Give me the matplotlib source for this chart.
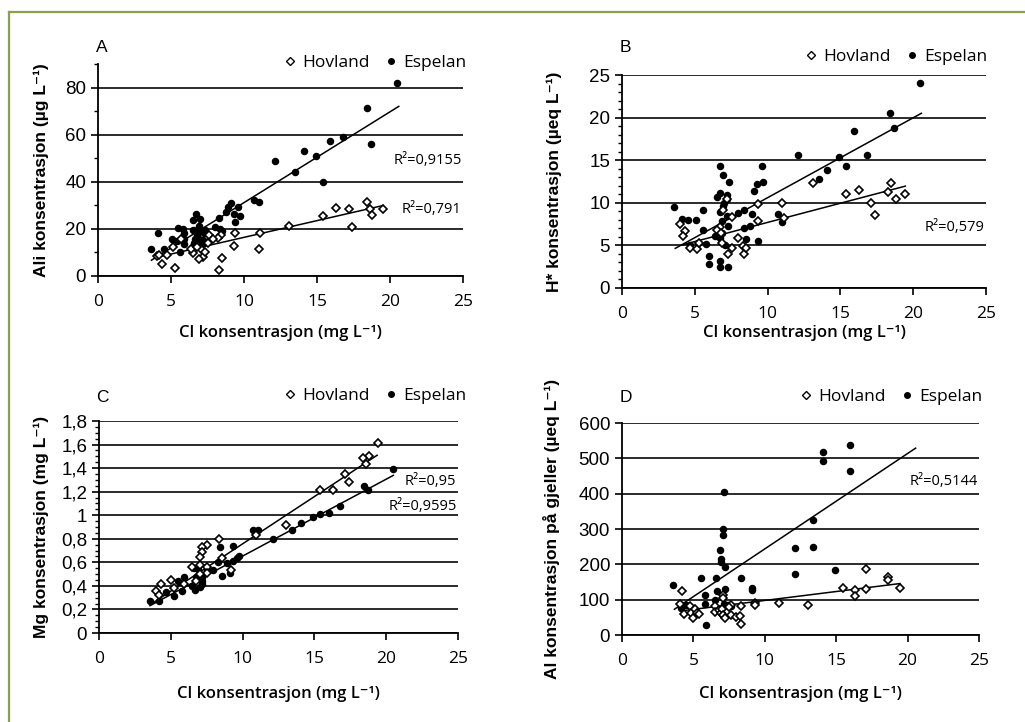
import matplotlib
matplotlib.use("Agg")
import matplotlib.pyplot as plt
import matplotlib.ticker as mticker
from matplotlib.lines import Line2D
import numpy as np

# ---- data ----
# Panel A: Ali vs Cl
a_esp_x = [20.5, 18.4, 18.7, 16.8, 15.9, 14.1, 14.9, 12.1, 13.5, 15.4, 10.7, 11.0, 9.1, 8.9, 9.6, 8.8,
           9.7, 9.3, 8.3, 9.4, 6.7, 7.0, 6.5, 4.1, 3.6, 4.5, 5.1, 5.5, 5.8, 5.9, 5.4, 5.9, 5.9, 5.6,
           6.75, 6.8, 7.1, 7.25, 6.65, 6.9, 6.95, 7.35, 8.0, 8.35, 8.5, 7.2, 6.6, 7.1, 6.5]
a_esp_y = [82, 71.2, 56.2, 58.9, 57.4, 52.9, 51, 48.7, 44, 39.9, 32.2, 31.5, 30.9, 29.2, 29.2, 27.2,
           25.5, 26.4, 24.7, 22.8, 26.5, 24.1, 23.7, 18.2, 11.3, 11.3, 15.9, 20.4, 19.9, 18.2, 15, 15.9,
           13.5, 10.4, 19.6, 17.4, 19.3, 18.2, 15.6, 15.9, 21.3, 19.6, 21, 19.9, 19.3, 15.3, 13.9, 13.9, 19.6]
a_hov_x = [19.5, 18.4, 18.6, 18.8, 17.2, 16.3, 17.4, 15.4, 13.1, 11.1, 11.0, 9.4, 9.3, 8.5, 8.3, 8.4,
           8.2, 7.6, 7.9, 7.55, 7.2, 6.9, 7.05, 6.5, 6.4, 6.75, 7.35, 5.7, 5.15, 5.3, 4.35, 4.7, 4.05, 4.2]
a_hov_y = [28.4, 31.5, 28.4, 26, 28.4, 28.8, 20.9, 25.5, 21.4, 18.2, 11.6, 18.2, 12.6, 7.5, 2.4, 17.4,
           16, 17.6, 15.6, 13.9, 8.1, 7.1, 11.3, 9.6, 11.3, 12.2, 10.4, 15.6, 12.2, 3.4, 5.2, 8.8, 8.5, 8.8]

# Panel B: H* vs Cl
b_esp_x = [20.5, 18.4, 18.7, 15.9, 16.8, 12.1, 14.9, 15.4, 14.1, 13.5, 9.6, 9.7, 9.3, 9.1, 6.7, 6.95,
           7.35, 6.5, 6.75, 7.2, 7.2, 7.0, 6.75, 6.95, 7.2, 8.0, 8.4, 8.9, 6.85, 7.25, 8.35, 8.8, 8.5,
           9.35, 10.7, 11.0, 3.6, 4.1, 4.5, 5.1, 5.55, 5.55, 4.7, 5.25, 5.8, 5.95, 5.95, 6.7, 6.7, 7.3,
           6.4, 6.75, 7.1, 6.9, 6.6]
b_esp_y = [24.1, 20.5, 18.75, 18.4, 15.6, 15.6, 15.35, 14.3, 13.9, 12.8, 14.3, 12.4, 12.2, 11.4, 14.3,
           13.3, 12.4, 10.7, 11.1, 10.9, 10.5, 10.0, 8.9, 9.6, 8.4, 8.8, 9.1, 8.7, 7.9, 7.3, 7.0, 7.3,
           5.7, 5.5, 8.7, 7.7, 9.5, 8.1, 8.0, 8.0, 9.1, 6.8, 5.1, 5.3, 5.2, 3.7, 2.85, 3.2, 2.5, 2.5,
           6.05, 5.9, 5.1, 6.5, 6.95]
b_hov_x = [19.45, 18.5, 18.3, 18.8, 17.1, 17.35, 16.3, 15.4, 13.1, 11.0, 11.1, 9.35, 9.35, 7.95, 8.3,
           8.4, 8.55, 7.55, 7.2, 6.95, 6.75, 6.5, 6.8, 6.85, 7.3, 7.55, 4.0, 4.35, 4.2, 4.7, 5.15, 5.3]
b_hov_y = [11.0, 12.3, 11.25, 10.5, 10.0, 8.55, 11.5, 11.0, 12.3, 10.0, 8.25, 9.85, 7.9, 5.9, 4.9,
           4.0, 4.7, 8.3, 10.5, 9.15, 7.2, 6.8, 6.45, 5.3, 3.95, 4.7, 7.5, 6.7, 6.1, 4.7, 4.6, 5.3]

# Panel C: Mg vs Cl
c_esp_x = [20.5, 18.45, 18.7, 16.8, 16.0, 15.4, 14.9, 14.05, 13.45, 12.1, 10.75, 11.1, 9.75, 9.6, 9.35,
           9.3, 8.9, 9.15, 8.4, 8.3, 8.55, 7.95, 7.5, 7.2, 7.2, 7.15, 6.75, 6.45, 6.7, 7.0, 6.6, 6.9,
           5.9, 5.75, 5.5, 5.25, 4.65, 4.15, 3.55]
c_esp_y = [1.39, 1.25, 1.21, 1.08, 1.02, 1.01, 0.986, 0.938, 0.873, 0.802, 0.876, 0.873, 0.656, 0.636,
           0.737, 0.608, 0.593, 0.506, 0.732, 0.602, 0.486, 0.537, 0.534, 0.472, 0.415, 0.444, 0.472,
           0.398, 0.367, 0.393, 0.548, 0.543, 0.472, 0.359, 0.444, 0.316, 0.35, 0.268, 0.271]
c_hov_x = [19.4, 18.8, 18.4, 18.6, 17.15, 17.4, 16.3, 15.4, 13.05, 10.95, 8.35, 8.55, 9.2, 7.55, 7.2,
           7.15, 7.0, 7.05, 6.45, 7.5, 7.5, 7.05, 6.75, 5.0, 4.3, 4.0, 4.2, 5.2, 5.9]
c_hov_y = [1.61, 1.50, 1.49, 1.435, 1.35, 1.28, 1.215, 1.21, 0.913, 0.834, 0.80, 0.636, 0.537, 0.75,
           0.73, 0.685, 0.647, 0.574, 0.557, 0.557, 0.506, 0.50, 0.444, 0.452, 0.415, 0.36, 0.322,
           0.384, 0.415]

# Panel D: Al on gills vs Cl
d_esp_x = [15.96, 14.1, 14.1, 15.96, 7.13, 13.4, 7.06, 7.06, 13.4, 12.1, 6.85, 6.9, 6.9, 7.2, 12.1,
           14.9, 8.3, 5.5, 6.6, 6.65, 7.2, 9.1, 9.1, 3.6, 5.8, 6.5, 5.8, 7.17, 6.65, 6.9, 5.9, 4.2,
           4.45, 4.1, 7.4, 7.6, 7.0, 6.7]
d_esp_y = [538.6, 517, 493, 465, 406, 326, 298.6, 283.5, 249.5, 245.7, 240, 215.4, 208, 192.8, 173.9,
           184.3, 161.6, 161.6, 161.6, 124.7, 130.4, 133.2, 128.5, 142.7, 112.4, 99.2, 86.9, 86.9,
           72.8, 70, 28.3, 85, 84, 77.5, 85, 82, 58.6, 70.9]
d_hov_x = [17.1, 18.6, 18.6, 19.45, 17.1, 16.3, 16.3, 15.45, 13.0, 11.0, 9.3, 9.3, 8.35, 7.6, 7.5,
           7.1, 7.1, 6.5, 6.5, 6.8, 6.9, 7.0, 7.1, 7.2, 7.6, 7.95, 8.25, 8.35, 4.2, 4.05, 4.35, 4.75,
           4.8, 5.0, 5.1, 5.25, 5.4]
d_hov_y = [186, 165, 156, 133, 130, 128.5, 109.6, 134, 85, 90.7, 90.7, 86, 81.3, 84, 80, 112.4, 104,
           83, 64, 70, 63.3, 72.8, 56.7, 47.2, 56.7, 51, 53, 32, 124.7, 88.8, 60.5, 82.2, 62.4, 47.2,
           72.8, 63.3, 58.6]

# trend lines (slope, intercept, x from, x to) as drawn in the reference
a_esp_fit = (3.855, -7.4, 3.66, 20.6)
a_hov_fit = (1.419, 2.22, 4.0, 19.5)
b_esp_fit = (0.938, 1.22, 3.66, 20.56)
b_hov_fit = (0.45, 3.2, 4.1, 19.46)
c_esp_fit = (0.0653, 0.0, 3.55, 20.5)
c_hov_fit = (0.0803, -0.046, 3.68, 19.37)
d_esp_fit = (27.0, -26.3, 3.67, 20.56)
d_hov_fit = (5.05, 47.3, 4.1, 19.46)

# R² labels: (text, y position)
a_r2 = [("R²=0,9155", 49), ("R²=0,791", 28.4)]
b_r2 = [("R²=0,579", 7.1)]
c_r2 = [("R²=0,95", 1.285), ("R²=0,9595", 1.074)]
d_r2 = [("R²=0,5144", 434)]

HUM = ["Open Sans", "DejaVu Sans"]
ARIAL = ["Liberation Sans", "DejaVu Sans"]
XLABEL = "Cl konsentrasjon (mg L⁻¹)"

fig = plt.figure(figsize=(10.25, 7.22), dpi=100)
W, H = 1025, 722

# green frame (top and left edges)
fig.add_artist(Line2D([9 / W, 1], [1 - 12 / H, 1 - 12 / H], color="#8aa04a", lw=1.6))
fig.add_artist(Line2D([9 / W, 9 / W], [0, 1 - 12 / H], color="#8aa04a", lw=1.6))


def comma_fmt(v, pos):
    return ("%g" % round(v, 3)).replace(".", ",")


def panel(rect, letter, letter_xy, legend_xy, esp_x, esp_y, hov_x, hov_y, esp_fit, hov_fit,
          ytop, ymajor, yminor, ylabel, r2, xlabel_y, ylabel_x):
    l, t, r, b = rect
    ax = fig.add_axes([l / W, 1 - b / H, (r - l) / W, (b - t) / H])
    ax.set_xlim(0, 25)
    ax.set_ylim(0, ytop)
    ax.set_xticks(range(0, 26, 5))
    ax.set_yticks(np.arange(0, ytop + ymajor / 2, ymajor))
    if yminor:
        ax.yaxis.set_minor_locator(mticker.MultipleLocator(yminor))
    ax.yaxis.set_major_formatter(mticker.FuncFormatter(comma_fmt))
    ax.grid(axis="y", which="major", color="#1a1a1a", lw=1.3)
    ax.set_axisbelow(True)
    for s in ["top", "right"]:
        ax.spines[s].set_visible(False)
    for s in ["left", "bottom"]:
        ax.spines[s].set_linewidth(1.3)
    ax.tick_params(axis="both", which="major", length=5, width=1.2, direction="out", colors="black")
    ax.tick_params(axis="y", which="minor", length=3, width=1.0)
    for lab in ax.get_yticklabels():
        lab.set_family(ARIAL)
        lab.set_fontsize(13.5)
    for lab in ax.get_xticklabels():
        lab.set_family(HUM)
        lab.set_fontsize(12.5)
    ax.tick_params(axis="x", pad=8)

    for fit in [esp_fit, hov_fit]:
        xx = np.array([fit[2], fit[3]])
        ax.plot(xx, fit[0] * xx + fit[1], color="black", lw=1.1, zorder=2)
    ax.plot(esp_x, esp_y, "o", color="black", ms=4.4, zorder=3)
    ax.plot(hov_x, hov_y, "D", mfc="white", mec="black", mew=1.2, ms=4.2, zorder=4)

    for txt, yv in r2:
        ax.text(24.9, yv, txt, ha="right", va="center", fontsize=10.5, family=HUM)

    handles = [Line2D([], [], marker="D", ls="", mfc="white", mec="black", mew=1.0, ms=4),
               Line2D([], [], marker="o", ls="", color="black", ms=4)]
    fig.legend(handles, ["Hovland", "Espelan"], ncol=2, frameon=False, loc="center right",
               bbox_to_anchor=(legend_xy[0] / W, 1 - legend_xy[1] / H), handlelength=0.6,
               handletextpad=0.4, columnspacing=0.9, borderaxespad=0, borderpad=0,
               prop={"family": HUM, "size": 12.5})

    ax.set_xlabel(XLABEL, family=HUM, fontsize=12, fontweight="semibold")
    ax.xaxis.set_label_coords(0.5, -(xlabel_y - b) / (b - t))
    ax.xaxis.label.set_va("center")
    ax.set_ylabel(ylabel, family=ARIAL, fontsize=12.5, fontweight="bold")
    ax.yaxis.set_label_coords(-(l - ylabel_x) / (r - l), 0.5)
    ax.yaxis.label.set_va("center")
    fig.text(letter_xy[0] / W, 1 - letter_xy[1] / H, letter, ha="left", va="center",
             fontsize=12.5, family=ARIAL)
    return ax


panel((98, 64, 463, 276), "A", (96, 47), (466, 63), a_esp_x, a_esp_y, a_hov_x, a_hov_y,
      a_esp_fit, a_hov_fit, 90, 20, 10, "Ali konsentrasjon (µg L⁻¹)", a_r2, 333, 41)
panel((622, 75, 986, 288), "B", (620, 47), (987, 57), b_esp_x, b_esp_y, b_hov_x, b_hov_y,
      b_esp_fit, b_hov_fit, 25, 5, 1, "H* konsentrasjon (µeq L⁻¹)", b_r2, 333, 554)
panel((99, 421, 458, 633), "C", (96, 398), (466, 396), c_esp_x, c_esp_y, c_hov_x, c_hov_y,
      c_esp_fit, c_hov_fit, 1.8, 0.2, 0.05, "Mg konsentrasjon (mg L⁻¹)", c_r2, 694, 41)
panel((622, 423, 979, 635), "D", (620, 398), (982, 397), d_esp_x, d_esp_y, d_hov_x, d_hov_y,
      d_esp_fit, d_hov_fit, 600, 100, None, "Al konsentrasjon på gjeller (µeq L⁻¹)", d_r2, 694, 552)

fig.savefig("out.png", dpi=100, facecolor="white")
